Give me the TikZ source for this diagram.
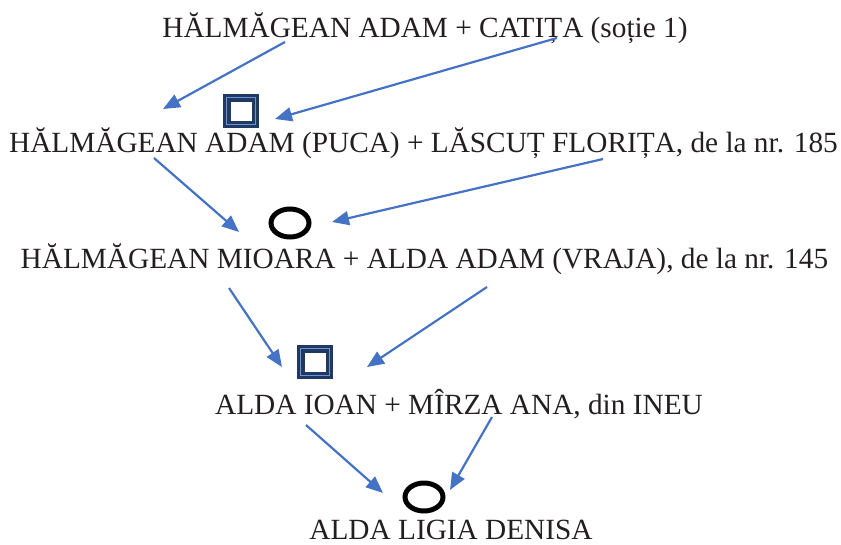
\documentclass[tikz,border=0pt]{standalone}
\usepackage{fontspec}
\setmainfont{Liberation Serif}
\usetikzlibrary{arrows.meta,positioning,shapes.geometric}
\definecolor{arrblue}{HTML}{4472C4}
\definecolor{sqnavy}{HTML}{1F3864}
\definecolor{sqlight}{HTML}{6F93CC}
\definecolor{txtgray}{HTML}{231F20}

\begin{document}
\begin{tikzpicture}[
    x=1pt, y=-1pt,
    pers/.style={anchor=base, inner sep=0pt, text=txtgray,
                 font=\fontsize{29.3}{35}\selectfont},
    msq/.style={draw=sqnavy, line width=7.5pt, minimum width=28.5pt,
                minimum height=26.5pt, inner sep=0pt,
                postaction={draw=sqlight, line width=1.2pt}},
    fcirc/.style={ellipse, draw=black, line width=5pt,
                  minimum width=38pt, minimum height=28pt, inner sep=0pt},
    arrow/.style={-{Triangle[length=17pt,width=14pt]}, line width=2.2pt,
                  draw=arrblue},
  ]
  \useasboundingbox (0,0) rectangle (841,544);

  % generations
  \node[pers] (g1) at (425,37) {HĂLMĂGEAN ADAM + CATIȚA (soție 1)};
  \node[pers] (g2) at (423.5,152) {HĂLMĂGEAN ADAM (PUCA) + LĂSCUȚ FLORIȚA, de la nr. 185};
  \node[pers] (g3) at (424.5,268) {HĂLMĂGEAN MIOARA + ALDA ADAM (VRAJA), de la nr. 145};
  \node[pers] (g4) at (459,414) {ALDA IOAN + MÎRZA ANA, din INEU};
  \node[pers] (g5) at (451,539) {ALDA LIGIA DENISA};

  % sex symbols
  \node[msq] (m1) at (241,111) {};
  \node[fcirc] (f1) at (290,223) {};
  \node[msq] (m2) at (315,362) {};
  \node[fcirc] (f2) at (424,497) {};

  % arrow ends
  \coordinate (a1s) at (285,42);   \coordinate (a1e) at (163,109);
  \coordinate (a2s) at (557,38);   \coordinate (a2e) at (275,119);
  \coordinate (a3s) at (154,158);  \coordinate (a3e) at (239,232);
  \coordinate (a4s) at (603,159);  \coordinate (a4e) at (332,222);
  \coordinate (a5s) at (229,288);  \coordinate (a5e) at (282,367);
  \coordinate (a6s) at (487,287);  \coordinate (a6e) at (367,367);
  \coordinate (a7s) at (306,425);  \coordinate (a7e) at (383,493);
  \coordinate (a8s) at (492,417);  \coordinate (a8e) at (450,490);

  \foreach \i in {1,...,8}
    \draw[arrow] (a\i s) -- (a\i e);
\end{tikzpicture}
\end{document}
